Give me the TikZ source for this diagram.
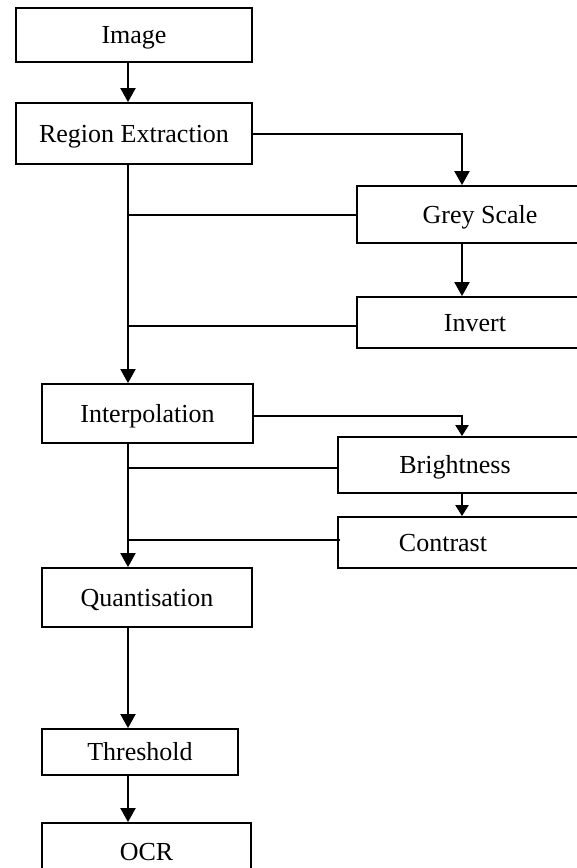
\documentclass[tikz,border=0pt]{standalone}
\usepackage{fontspec}
\setmainfont{Liberation Serif}
\usetikzlibrary{arrows.meta}
\begin{document}
\begin{tikzpicture}[x=1pt,y=-1pt,
  box/.style={draw=black, line width=1.8pt, inner sep=0pt, fill=white,
    text height=17pt, text depth=0pt,
    font=\fontsize{26}{30}\selectfont},
  conn/.style={line width=2pt},
  bigarrow/.style={conn, -{Triangle[width=15pt,length=14pt]}},
  smallarrow/.style={conn, -{Triangle[width=13pt,length=11pt]}}]
\path[clip] (0,0) rectangle (577,868);
\fill[white] (0,0) rectangle (577,868);
\coordinate (mx) at (128,0);
\coordinate (rx) at (462,0);

\node[box, minimum width=236pt, minimum height=54pt] (image) at (134,35) {Image};
\node[box, minimum width=236pt, minimum height=61pt] (region) at (134,133.5) {Region Extraction};
\node[box, minimum width=246pt, minimum height=57pt] (grey) at (480,214.5) {Grey Scale};
\node[box, minimum width=236pt, minimum height=51pt] (invert) at (475,322.5) {Invert};
\node[box, minimum width=211pt, minimum height=59pt] (interp) at (147.5,413.5) {Interpolation};
\node[box, minimum width=300pt, minimum height=56pt] (bright) at (488,465) {Brightness\kern66pt};
\node[box, minimum width=300pt, minimum height=51pt] (contrast) at (488,542.5) {Contrast\kern90pt};
\node[box, minimum width=210pt, minimum height=59pt] (quant) at (147,597.5) {Quantisation};
\node[box, minimum width=196pt, minimum height=46pt] (thresh) at (140,752) {Threshold};
\node[box, minimum width=209pt, minimum height=58pt] (ocr) at (146.5,852) {OCR};

% main column
\draw[bigarrow] (image.south -| mx) -- (region.north -| mx);
\draw[bigarrow] (region.south -| mx) -- (interp.north -| mx);
\draw[bigarrow] (interp.south -| mx) -- (quant.north -| mx);
\draw[bigarrow] (quant.south -| mx) -- (thresh.north -| mx);
\draw[bigarrow] (thresh.south -| mx) -- (ocr.north -| mx);

% first branch
\draw[bigarrow] (region.east) -| (grey.north -| rx);
\draw[bigarrow] (grey.south -| rx) -- (invert.north -| rx);
\draw[conn] (grey.west) -- (grey.west -| mx);
\draw[conn] ([yshift=-3.5pt]invert.west) -- ([yshift=-3.5pt]invert.west -| mx);

% second branch
\draw[smallarrow] ([yshift=-2.5pt]interp.east) -| (bright.north -| rx);
\draw[smallarrow] (bright.south -| rx) -- (contrast.north -| rx);
\draw[conn] ([yshift=-3pt]bright.west) -- ([yshift=-3pt]bright.west -| mx);
\draw[conn] ([xshift=3pt,yshift=3pt]contrast.west) -- ([yshift=3pt]contrast.west -| mx);
\end{tikzpicture}
\end{document}
